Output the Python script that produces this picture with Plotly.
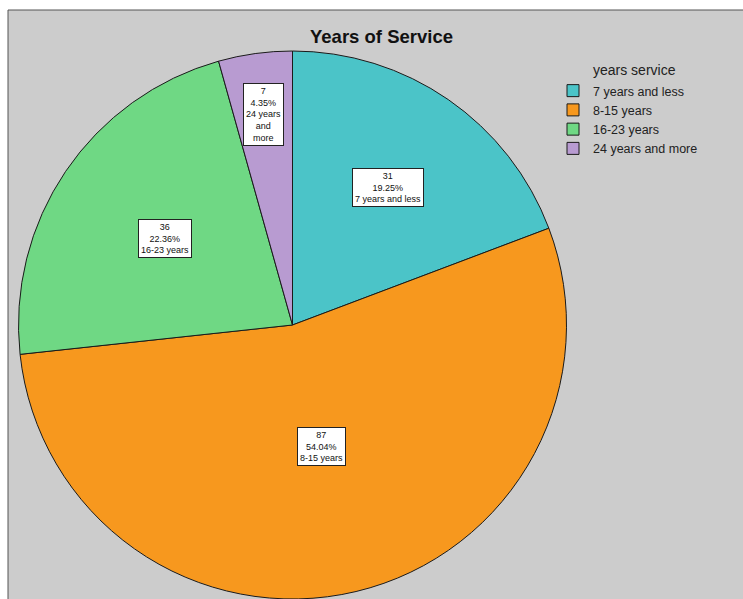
import math
import plotly.graph_objects as go

categories = ["7 years and less", "8-15 years", "16-23 years", "24 years and more"]
counts = [31, 87, 36, 7]
box_labels = ["7 years and less", "8-15 years", "16-23 years", "24 years<br>and<br>more"]

colors = ["#4BC4C8", "#F7981E", "#6FD884", "#B89BD1"]
label_radius = [0.612, 0.457, 0.563, 0.776]

W, H = 743, 599
cx_px, cy_px, R_px = 292.5, 325.0, 274.0

fig = go.Figure()
fig.add_trace(go.Pie(
    labels=categories, values=counts, sort=False, direction="clockwise", rotation=0,
    marker=dict(colors=colors, line=dict(color="#1a1a1a", width=1)),
    textinfo="none", hoverinfo="label+value+percent",
    domain=dict(x=[(cx_px - R_px) / W, (cx_px + R_px) / W],
                y=[1 - (cy_px + R_px) / H, 1 - (cy_px - R_px) / H]),
))

total = sum(counts)
annotations = []
cum = 0
for cat, v, bl, rf in zip(categories, counts, box_labels, label_radius):
    mid = (cum + v / 2) / total * 2 * math.pi
    cum += v
    px = cx_px + rf * R_px * math.sin(mid)
    py = cy_px - rf * R_px * math.cos(mid)
    pct = f"{v / total * 100:.2f}%"
    annotations.append(dict(
        x=px / W, y=1 - py / H, xref="paper", yref="paper", showarrow=False,
        xanchor="center", yanchor="middle",
        text=f"{v}<br>{pct}<br>{bl}", align="center",
        font=dict(family="Liberation Sans, Arial", size=9, color="#111"),
        bgcolor="white", bordercolor="#222", borderwidth=1, borderpad=2,
    ))

annotations.append(dict(
    x=382 / W, y=1 - 37 / H, xref="paper", yref="paper", showarrow=False,
    xanchor="center", yanchor="middle",
    text="<b>Years of Service</b>",
    font=dict(family="Liberation Sans, Arial", size=18.5, color="#111"),
))
annotations.append(dict(
    x=634 / W, y=1 - 70 / H, xref="paper", yref="paper", showarrow=False,
    xanchor="center", yanchor="middle",
    text="years service",
    font=dict(family="Liberation Sans, Arial", size=14, color="#222"),
))

fig.update_layout(
    width=W, height=H, margin=dict(l=0, r=0, t=0, b=0),
    paper_bgcolor="white", plot_bgcolor="#CCCCCC",
    annotations=annotations,
    shapes=[dict(type="rect", xref="paper", yref="paper", x0=8 / W, x1=1.01, y0=-0.01, y1=1 - 10 / H,
                 fillcolor="#CCCCCC", line=dict(color="#555", width=1), layer="below")],
    showlegend=True,
    legend=dict(
        x=553 / W, y=1 - 76 / H, xanchor="left", yanchor="top",
        bgcolor="rgba(0,0,0,0)", itemwidth=30, tracegroupgap=0,
        font=dict(family="Liberation Sans, Arial", size=12.5, color="#222"),
    ),
)

fig.write_html("out.html")
